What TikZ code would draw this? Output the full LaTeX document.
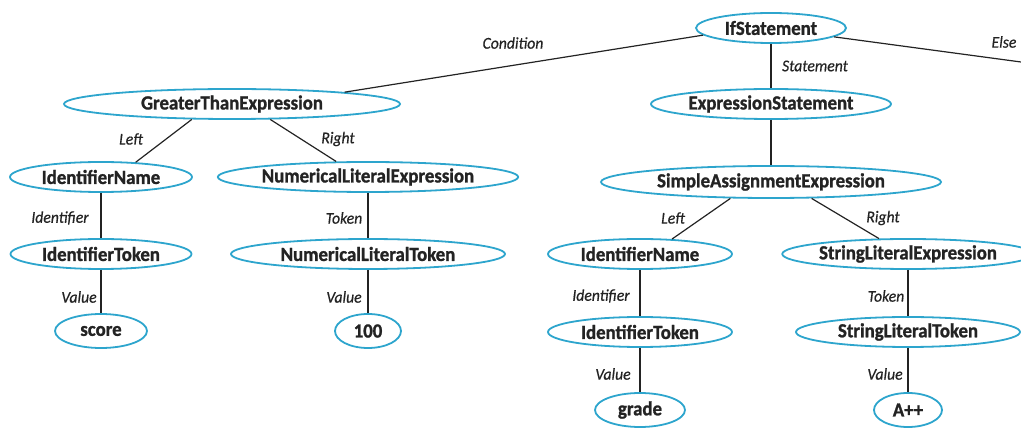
\documentclass[tikz,border=0pt]{standalone}
\usepackage{fontspec}
\setmainfont{Carlito}
\newfontfamily\nodefont{Carlito}[FakeStretch=0.94, BoldFeatures={FakeBold=1.2}]
\newfontfamily\rolefont{Carlito}[FakeStretch=0.95, ItalicFeatures={FakeBold=0.5}]
\usetikzlibrary{shapes.geometric}
\definecolor{rim}{RGB}{45,165,205}
\definecolor{ink}{RGB}{35,35,35}
\tikzset{
  astnode/.style={ellipse, draw=rim, line width=1.8pt, inner sep=0pt,
    minimum height=30pt, text=ink, font=\nodefont\fontsize{20}{20}\selectfont\bfseries},
  link/.style={draw=ink, line width=1.2pt},
  role/.style={text=ink, font=\rolefont\fontsize{16.5}{16.5}\selectfont\itshape, inner sep=0pt}
}
\begin{document}
\begin{tikzpicture}[x=1pt,y=-1pt]
\useasboundingbox (0,0) rectangle (1021,430);

% root
\node[astnode, minimum width=150pt] (ifs) at (771,28) {IfStatement};

% condition branch
\node[astnode, minimum width=336pt] (gte) at (232,104) {GreaterThanExpression};
\node[astnode, minimum width=182pt] (idn1) at (101,177) {IdentifierName};
\node[astnode, minimum width=292pt] (nle) at (368,177) {NumericalLiteralExpression};
\node[astnode, minimum width=181pt] (idt1) at (101,254) {IdentifierToken};
\node[astnode, minimum width=274pt] (nlt) at (368,254) {NumericalLiteralToken};
\node[astnode, minimum width=92pt, minimum height=34pt] (score) at (101,331) {score};
\node[astnode, minimum width=66pt, minimum height=34pt] (hundred) at (368,331) {100};

% statement branch
\node[astnode, minimum width=240pt] (exs) at (771,104) {ExpressionStatement};
\node[astnode, minimum width=340pt, minimum height=32pt] (sae) at (771,182) {SimpleAssignmentExpression};
\node[astnode, minimum width=184pt] (idn2) at (640,254) {IdentifierName};
\node[astnode, minimum width=246pt] (sle) at (908,254) {StringLiteralExpression};
\node[astnode, minimum width=184pt] (idt2) at (640,332) {IdentifierToken};
\node[astnode, minimum width=224pt] (slt) at (908,332) {StringLiteralToken};
\node[astnode, minimum width=90pt, minimum height=34pt] (grade) at (640,410) {grade};
\node[astnode, minimum width=68pt, minimum height=34pt] (app) at (908,410) {A++};

\coordinate (elseend) at (1021,62);

% connectors
\draw[link] (ifs.186) -- (gte.6);
\draw[link] (ifs.-8) -- (elseend);
\draw[link] (ifs.south) -- (exs.north);
\draw[link] (gte.-159) -- (idn1.23);
\draw[link] (gte.-22) -- (nle.154);
\draw[link] (idn1.south) -- (idt1.north);
\draw[link] (nle.south) -- (nlt.north);
\draw[link] (idt1.south) -- (score.north);
\draw[link] (nlt.south) -- (hundred.north);
\draw[link] (exs.south) -- (sae.north);
\draw[link] (sae.-158) -- (idn2.25);
\draw[link] (sae.-22) -- (sle.152);
\draw[link] (idn2.south) -- (idt2.north);
\draw[link] (sle.south) -- (slt.north);
\draw[link] (idt2.south) -- (grade.north);
\draw[link] (slt.south) -- (app.north);

% role labels
\node[role] (lcond) at (513,43) {Condition};
\node[role] (lelse) at (1004,42) {Else};
\node[role] (lstmt) at (815,66) {Statement};
\node[role] (lleft1) at (131,139) {Left};
\node[role] (lright1) at (338,139) {Right};
\node[role] (lid1) at (60,218) {Identifier};
\node[role] (ltok1) at (344,218) {Token};
\node[role] (lval1) at (79,297) {Value};
\node[role] (lval2) at (344,297) {Value};
\node[role] (lleft2) at (673,218) {Left};
\node[role] (lright2) at (883,218) {Right};
\node[role] (lid2) at (601,296) {Identifier};
\node[role] (ltok2) at (886,296) {Token};
\node[role] (lval3) at (613,374) {Value};
\node[role] (lval4) at (885,374) {Value};
\end{tikzpicture}
\end{document}
